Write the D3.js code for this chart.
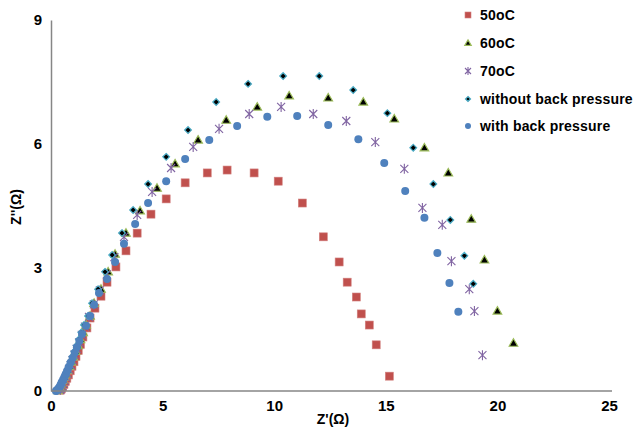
<!DOCTYPE html>
<html>
<head>
<meta charset="utf-8">
<script src="https://cdn.jsdelivr.net/npm/d3@7"></script>
<style>
  body { margin: 0; background: #fff; }
  svg { display: block; font-family: "Liberation Sans", Arial, sans-serif; }
</style>
</head>
<body>
<svg id="chart"></svg>
<script>
// series values (Z' and Z'' in ohm)
let x50 = [0.41,0.46,0.52,0.58,0.64,0.71,0.78,0.86,0.94,1.03,1.12,1.22,1.32,1.43,1.61,1.75,1.97,2.24,2.51,2.91,3.36,3.86,4.48,5.16,6.01,7.00,7.89,9.10,10.18,11.26,12.20,12.91,13.27,13.68,13.90,14.26,14.57,15.16];
let y50 = [0.02,0.05,0.10,0.16,0.23,0.31,0.39,0.49,0.60,0.71,0.84,0.98,1.13,1.31,1.53,1.77,2.01,2.30,2.64,3.01,3.40,3.83,4.29,4.66,5.05,5.29,5.36,5.29,5.09,4.56,3.74,3.13,2.64,2.28,1.87,1.60,1.12,0.36];

let x60 = [0.31,0.35,0.40,0.45,0.50,0.56,0.62,0.68,0.75,0.83,0.91,1.00,1.10,1.21,1.32,1.44,1.57,1.75,1.93,2.24,2.56,2.87,3.36,3.99,4.75,5.56,6.59,7.85,9.24,10.67,12.42,13.99,15.38,16.73,17.80,18.83,19.42,20.00,20.72];
let y60 = [0.01,0.04,0.08,0.13,0.19,0.26,0.33,0.41,0.50,0.60,0.71,0.83,0.96,1.10,1.25,1.42,1.60,1.82,2.13,2.47,2.89,3.32,3.83,4.37,4.92,5.51,6.09,6.57,6.89,7.16,7.11,7.01,6.60,5.90,5.29,4.17,3.18,1.94,1.16];

let x70 = [0.42,0.46,0.51,0.56,0.61,0.67,0.73,0.80,0.88,0.96,1.05,1.15,1.26,1.38,1.52,1.70,1.92,2.19,2.50,2.84,3.27,3.86,4.53,5.38,6.37,7.53,8.88,10.31,11.75,13.23,14.53,15.83,16.64,17.53,17.94,18.74,18.97,19.33];
let y70 = [0.03,0.07,0.12,0.18,0.25,0.33,0.42,0.52,0.63,0.75,0.88,1.02,1.18,1.36,1.56,1.80,2.10,2.44,2.83,3.25,3.74,4.27,4.83,5.41,5.92,6.36,6.72,6.89,6.72,6.55,6.04,5.39,4.44,4.03,3.15,2.47,1.94,0.87];

let xWithout = [0.29,0.33,0.38,0.43,0.48,0.54,0.60,0.66,0.73,0.80,0.88,0.96,1.05,1.15,1.25,1.36,1.48,1.66,1.84,2.11,2.42,2.74,3.18,3.68,4.35,5.16,6.14,7.40,8.83,10.40,12.02,13.54,15.07,16.23,17.13,17.89,18.52,18.92];
let yWithout = [0.01,0.04,0.08,0.13,0.19,0.26,0.33,0.41,0.50,0.60,0.71,0.83,0.96,1.10,1.25,1.42,1.60,1.82,2.13,2.47,2.89,3.30,3.83,4.39,5.02,5.68,6.33,7.01,7.45,7.64,7.64,7.30,6.74,5.90,5.02,4.15,3.28,2.60];

let xWith = [0.22,0.25,0.29,0.33,0.38,0.43,0.48,0.54,0.60,0.66,0.73,0.80,0.88,0.97,1.06,1.16,1.27,1.39,1.57,1.75,1.93,2.15,2.51,2.87,3.27,3.77,4.35,5.16,6.01,7.09,8.34,9.69,11.03,12.42,13.77,14.93,15.87,16.73,17.31,17.85,18.25];
let yWith = [0.00,0.01,0.03,0.06,0.10,0.15,0.21,0.27,0.34,0.41,0.50,0.59,0.69,0.80,0.92,1.06,1.21,1.38,1.58,1.82,2.09,2.38,2.72,3.13,3.57,4.05,4.56,5.09,5.63,6.09,6.43,6.65,6.67,6.45,6.11,5.53,4.85,4.20,3.35,2.62,1.92];

let seriesNames = ['50oC', '60oC', '70oC', 'without back pressure', 'with back pressure'];
let xTicks = [0, 5, 10, 15, 20, 25];
let yTicks = [0, 3, 6, 9];

let w = 635;
let h = 428;

let svg = d3.select('#chart')
  .attr('width', w)
  .attr('height', h);

let xScale = d3.scaleLinear()
  .domain([0, 25])
  .range([51, 609]);

let yScale = d3.scaleLinear()
  .domain([0, 9])
  .range([391, 20]);

// marker drawing per series (excel look)
function drawMarker(g, i, s) {
  if (i === 0) {
    g.append('rect')
      .attr('x', -s / 2).attr('y', -s / 2)
      .attr('width', s).attr('height', s)
      .attr('fill', '#c0504d')
      .attr('stroke', '#d2817f').attr('stroke-width', 0.6);
  } else if (i === 1) {
    g.append('path')
      .attr('d', d3.symbol(d3.symbolTriangle, s * s * 0.5)())
      .attr('transform', 'translate(0,0.6)')
      .attr('fill', '#000')
      .attr('stroke', '#9bbb59').attr('stroke-width', 1.2);
  } else if (i === 2) {
    let r = s / 2;
    g.append('path')
      .attr('d', `M${-r},${-r}L${r},${r}M${-r},${r}L${r},${-r}M0,${-r - 1}L0,${r + 1}`)
      .attr('fill', 'none')
      .attr('stroke', '#8064a2').attr('stroke-width', 1.1);
  } else if (i === 3) {
    // square rotated 45deg, as excel draws it
    let r = s * 0.42;
    g.append('path')
      .attr('d', `M0,${-r}L${r},0L0,${r}L${-r},0Z`)
      .attr('fill', '#000')
      .attr('stroke', '#4bacc6').attr('stroke-width', 1.2);
  } else {
    g.append('circle')
      .attr('r', s / 2)
      .attr('fill', '#4f81bd');
  }
}

let allX = [x50, x60, x70, xWithout, xWith];
let allY = [y50, y60, y70, yWithout, yWith];

// points, drawn in legend order
allX.forEach((xs, i) => {
  let pts = xs.map((v, j) => ({ x: v, y: allY[i][j] }));
  svg.append('g')
    .selectAll('g')
    .data(pts)
    .enter()
    .append('g')
    .attr('transform', (d) => `translate(${xScale(d.x)},${yScale(d.y)})`)
    .each(function () { drawMarker(d3.select(this), i, 8); });
});

// AXES
let xAxis = d3.axisBottom(xScale)
  .tickValues(xTicks)
  .tickSize(0)
  .tickPadding(9);
let yAxis = d3.axisLeft(yScale)
  .tickValues(yTicks)
  .tickSize(0)
  .tickPadding(9);

let gx = svg.append('g')
  .attr('transform', `translate(0, ${yScale(0)})`)
  .call(xAxis);
let gy = svg.append('g')
  .attr('transform', `translate(${xScale(0)}, 0)`)
  .call(yAxis);

[gx, gy].forEach((g) => {
  g.select('.domain').attr('stroke', '#868686').attr('stroke-width', 1.5);
  g.selectAll('text')
    .attr('fill', '#000')
    .style('font-size', '15px')
    .style('font-weight', 'bold')
    .style('font-family', '"Liberation Sans", Arial, sans-serif');
});
gx.select('.domain').attr('d', `M${xScale(0)},0H612`);

// axis titles
svg.append('text')
  .attr('x', 333)
  .attr('y', 424)
  .style('text-anchor', 'middle')
  .style('font-size', '14px')
  .style('font-weight', 'bold')
  .text("Z'(Ω)");

svg.append('text')
  .attr('transform', 'translate(21, 207) rotate(-90)')
  .style('text-anchor', 'middle')
  .style('font-size', '14px')
  .style('font-weight', 'bold')
  .text("Z''(Ω)");

// legend
let legendY = [15, 43, 71, 99, 126];
seriesNames.forEach((name, i) => {
  let lg = svg.append('g')
    .attr('transform', `translate(468, ${legendY[i]})`);
  drawMarker(lg, i, 6);
  lg.append('text')
    .attr('x', 12)
    .attr('y', 5)
    .style('font-size', '14px')
    .style('font-weight', 'bold')
    .style('letter-spacing', '0.2px')
    .text(name);
});
</script>
</body>
</html>
